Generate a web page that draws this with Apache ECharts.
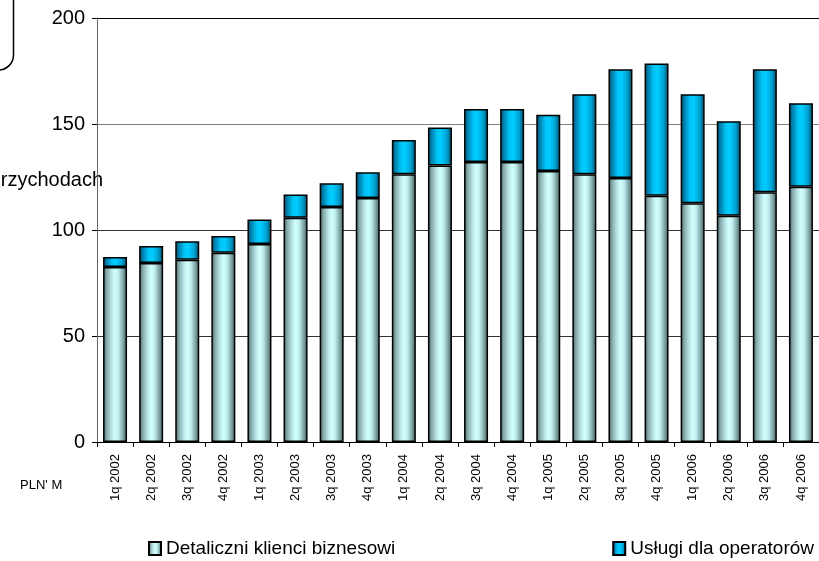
<!DOCTYPE html>
<html>
<head>
<meta charset="utf-8">
<script src="https://cdn.jsdelivr.net/npm/echarts@6/dist/echarts.min.js"></script>
<style>
html,body{margin:0;padding:0;background:#fff;}
#c{width:819px;height:561px;}
</style>
</head>
<body>
<div id="c"></div>
<script>
const categories = ["1q 2002","2q 2002","3q 2002","4q 2002","1q 2003","2q 2003","3q 2003","4q 2003","1q 2004","2q 2004","3q 2004","4q 2004","1q 2005","2q 2005","3q 2005","4q 2005","1q 2006","2q 2006","3q 2006","4q 2006"];
const retail = [82.5, 84.4, 86.0, 89.3, 93.4, 105.8, 110.8, 115.1, 126.3, 130.4, 132.1, 132.1, 127.8, 126.3, 124.5, 116.2, 112.6, 106.7, 117.8, 120.4];
const operators = [4.8, 8.1, 8.7, 7.9, 11.6, 10.9, 11.2, 12.1, 16.2, 18.0, 25.0, 25.0, 26.6, 37.7, 51.3, 62.3, 51.4, 44.6, 58.0, 39.4];
const seriesNames = ["Detaliczni klienci biznesowi", "Usługi dla operatorów"];
const yTicks = [0, 50, 100, 150, 200];

const FONT = "Liberation Sans, Arial, sans-serif";
const gradRetail = new echarts.graphic.LinearGradient(0,0,1,0,[
  {offset:0, color:'#3d5c5c'},
  {offset:0.15, color:'#86a8a8'},
  {offset:0.35, color:'#b8e4e4'},
  {offset:0.5, color:'#d2ffff'},
  {offset:0.65, color:'#c0eeee'},
  {offset:0.85, color:'#7a9e9e'},
  {offset:1, color:'#3a5858'}
]);
const gradOps = new echarts.graphic.LinearGradient(0,0,1,0,[
  {offset:0, color:'#004f6a'},
  {offset:0.18, color:'#0088b8'},
  {offset:0.38, color:'#00c4f4'},
  {offset:0.55, color:'#00ccff'},
  {offset:0.78, color:'#00a4d4'},
  {offset:1, color:'#004a66'}
]);

const chart = echarts.init(document.getElementById('c'), null, {renderer:'canvas'});
chart.setOption({
  animation:false,
  backgroundColor:'#fff',
  textStyle:{fontFamily:FONT},
  grid:{left:97, top:18, width:724, bottom:119, containLabel:false},
  legend:[
    {data:[seriesNames[0]], left:143, top:534, itemWidth:12, itemHeight:13, icon:'rect', itemGap:10,
     textStyle:{fontSize:19, color:'#000', fontFamily:FONT}},
    {data:[seriesNames[1]], right:0, top:534, itemWidth:12, itemHeight:13, icon:'rect', itemGap:10,
     textStyle:{fontSize:19, color:'#000', fontFamily:FONT}}
  ],
  xAxis:{
    type:'category', data:categories, boundaryGap:true,
    axisLine:{lineStyle:{color:'#000', width:1}},
    axisTick:{show:true, length:5, interval:0, lineStyle:{color:'#000'}},
    axisLabel:{rotate:90, interval:0, fontSize:13, color:'#000', margin:12, fontFamily:FONT}
  },
  yAxis:{
    type:'value', min:yTicks[0], max:yTicks[yTicks.length-1], interval:50,
    axisLine:{show:true, lineStyle:{color:'#666', width:1}},
    axisTick:{show:true, length:5, lineStyle:{color:'#000'}},
    axisLabel:{fontSize:20, color:'#000', margin:12, fontFamily:FONT},
    splitLine:{show:true, lineStyle:{color:['#000','#333','#333','#808080','#000'], width:1}}
  },
  series:[
    {name:seriesNames[0], type:'bar', stack:'s', data:retail, barWidth:24,
     itemStyle:{color:gradRetail, borderColor:'#000', borderWidth:1.5}},
    {name:seriesNames[1], type:'bar', stack:'s', data:operators, barWidth:24,
     itemStyle:{color:gradOps, borderColor:'#000', borderWidth:1.5}}
  ],
  graphic:[
    {type:'rect', shape:{x:-100, y:-100, width:113.5, height:170, r:15},
     style:{fill:'none', stroke:'#000', lineWidth:1.5}, silent:true},
    {type:'text', style:{text:'rzychodach', x:103, y:180, textAlign:'right', textVerticalAlign:'middle',
     fontSize:20, fontFamily:FONT, fill:'#000'}},
    {type:'text', style:{text:"PLN' M", x:20, y:485, textVerticalAlign:'middle',
     fontSize:13, fontFamily:FONT, fill:'#000'}}
  ]
});
</script>
</body>
</html>
